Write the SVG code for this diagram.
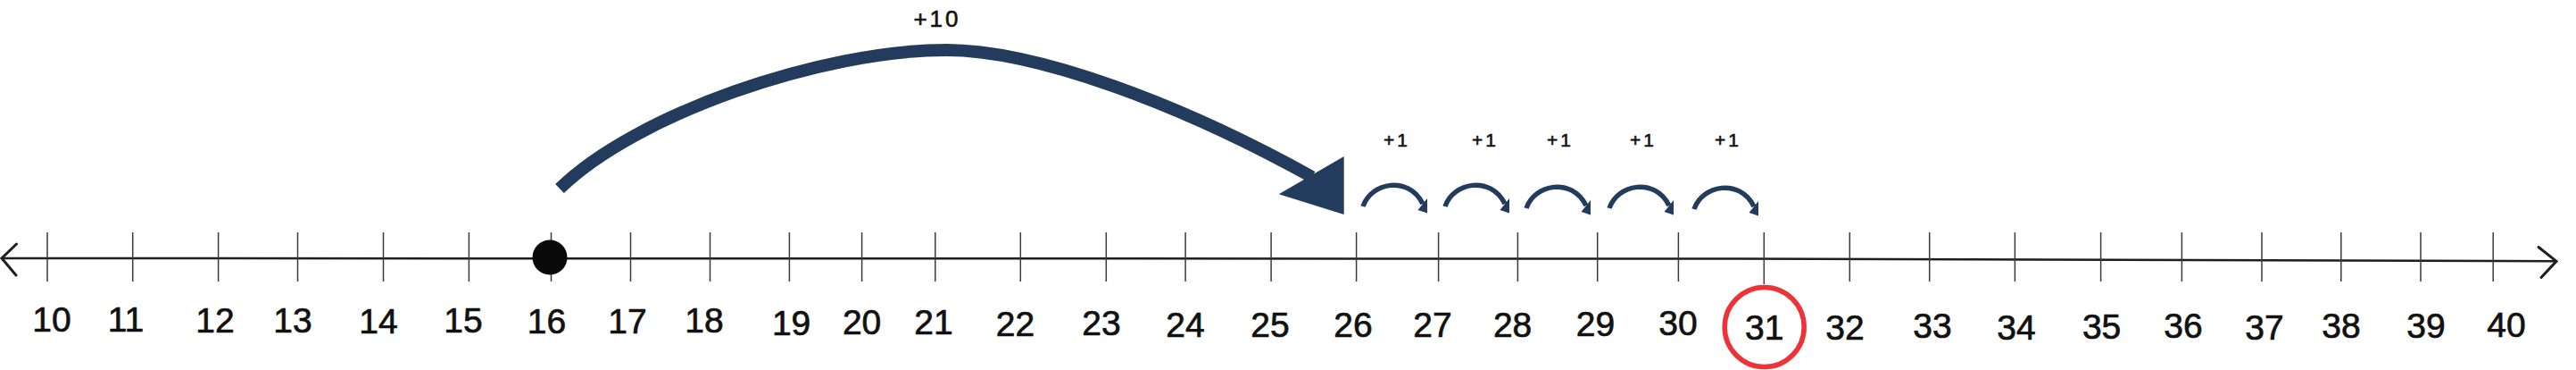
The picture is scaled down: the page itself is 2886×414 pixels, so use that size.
<svg xmlns="http://www.w3.org/2000/svg" width="2886" height="414" viewBox="0 0 2886 414">
<style>
.axis{fill:none;stroke:#1e1e1e;stroke-width:2.5;stroke-linecap:round;stroke-linejoin:round}
.head{fill:none;stroke:#1e1e1e;stroke-width:3;stroke-linecap:round}
.tick{stroke:#3a3a3a;stroke-width:1.5}
.num{font-family:"Liberation Sans",Arial,sans-serif;font-size:39px;fill:#111;stroke:#111;stroke-width:0.7;text-anchor:middle}
.jump{fill:none;stroke:#233c5e;stroke-width:14}
.hop{fill:none;stroke:#233c5e;stroke-width:5.5}
.tip{fill:#233c5e}
.lbl{font-family:"Liberation Sans",Arial,sans-serif;fill:#111;stroke:#111;stroke-width:0.6;text-anchor:middle}
</style>
<rect width="2886" height="414" fill="#ffffff"/>
<g id="axis">
<polyline class="axis" points="2,289 1950,289.5 2864,292.3"/>
<polyline class="head" points="18.5,273 2,289 18,308"/>
<polyline class="head" points="2844,276.5 2864,292.3 2847,310.5"/>
</g>
<g id="n10"><line class="tick" x1="53" y1="260" x2="53" y2="315"/><text class="num" x="58" y="371">10</text></g>
<g id="n11"><line class="tick" x1="148.7" y1="260" x2="148.7" y2="315"/><text class="num" x="141" y="371">11</text></g>
<g id="n12"><line class="tick" x1="244.6" y1="260" x2="244.6" y2="315"/><text class="num" x="241" y="372">12</text></g>
<g id="n13"><line class="tick" x1="333.5" y1="260" x2="333.5" y2="315"/><text class="num" x="328" y="371.5">13</text></g>
<g id="n14"><line class="tick" x1="429.5" y1="260" x2="429.5" y2="315"/><text class="num" x="424" y="372.5">14</text></g>
<g id="n15"><line class="tick" x1="525.4" y1="260" x2="525.4" y2="315"/><text class="num" x="519" y="371.5">15</text></g>
<g id="n16"><line class="tick" x1="617.5" y1="260" x2="617.5" y2="315"/><text class="num" x="612.5" y="373">16</text><circle cx="616" cy="288" r="19.5" fill="#0a0a0a"/></g>
<g id="n17"><line class="tick" x1="706.5" y1="260" x2="706.5" y2="315"/><text class="num" x="703" y="372.5">17</text></g>
<g id="n18"><line class="tick" x1="795.5" y1="260" x2="795.5" y2="315"/><text class="num" x="789" y="371.5">18</text></g>
<g id="n19"><line class="tick" x1="884.4" y1="260" x2="884.4" y2="315"/><text class="num" x="886.6" y="374.5">19</text></g>
<g id="n20"><line class="tick" x1="965.6" y1="260" x2="965.6" y2="315"/><text class="num" x="965.6" y="374">20</text></g>
<g id="n21"><line class="tick" x1="1047.8" y1="260" x2="1047.8" y2="315"/><text class="num" x="1046" y="374">21</text></g>
<g id="n22"><line class="tick" x1="1143.3" y1="260" x2="1143.3" y2="315"/><text class="num" x="1137.5" y="376">22</text></g>
<g id="n23"><line class="tick" x1="1239.3" y1="260" x2="1239.3" y2="315"/><text class="num" x="1234" y="375">23</text></g>
<g id="n24"><line class="tick" x1="1328.1" y1="260" x2="1328.1" y2="315"/><text class="num" x="1328" y="376.5">24</text></g>
<g id="n25"><line class="tick" x1="1424.1" y1="260" x2="1424.1" y2="315"/><text class="num" x="1423" y="376.5">25</text></g>
<g id="n26"><line class="tick" x1="1519.6" y1="260" x2="1519.6" y2="315"/><text class="num" x="1516" y="376.5">26</text></g>
<g id="n27"><line class="tick" x1="1611.6" y1="260" x2="1611.6" y2="315"/><text class="num" x="1605" y="377">27</text></g>
<g id="n28"><line class="tick" x1="1700.4" y1="260" x2="1700.4" y2="315"/><text class="num" x="1694.6" y="376.5">28</text></g>
<g id="n29"><line class="tick" x1="1789.7" y1="260" x2="1789.7" y2="315"/><text class="num" x="1787.5" y="376">29</text></g>
<g id="n30"><line class="tick" x1="1880.4" y1="260" x2="1880.4" y2="315"/><text class="num" x="1880" y="375">30</text></g>
<g id="n31"><line class="tick" x1="1976.3" y1="260" x2="1976.3" y2="318"/><text class="num" x="1976.7" y="380">31</text><circle cx="1976.7" cy="366" r="44.5" fill="none" stroke="#ee3338" stroke-width="5.5"/></g>
<g id="n32"><line class="tick" x1="2072.3" y1="260" x2="2072.3" y2="315"/><text class="num" x="2067" y="380">32</text></g>
<g id="n33"><line class="tick" x1="2161.7" y1="260" x2="2161.7" y2="315"/><text class="num" x="2165" y="377.5">33</text></g>
<g id="n34"><line class="tick" x1="2257.4" y1="260" x2="2257.4" y2="315"/><text class="num" x="2259" y="380">34</text></g>
<g id="n35"><line class="tick" x1="2353.6" y1="260" x2="2353.6" y2="315"/><text class="num" x="2354.6" y="379">35</text></g>
<g id="n36"><line class="tick" x1="2444.4" y1="260" x2="2444.4" y2="315"/><text class="num" x="2446" y="378.3">36</text></g>
<g id="n37"><line class="tick" x1="2534" y1="260" x2="2534" y2="315"/><text class="num" x="2537" y="379.5">37</text></g>
<g id="n38"><line class="tick" x1="2622.8" y1="260" x2="2622.8" y2="315"/><text class="num" x="2623" y="378.3">38</text></g>
<g id="n39"><line class="tick" x1="2712" y1="260" x2="2712" y2="315"/><text class="num" x="2718" y="378.3">39</text></g>
<g id="n40"><line class="tick" x1="2793.2" y1="260" x2="2793.2" y2="315"/><text class="num" x="2808" y="377.3">40</text></g>
<g id="connectors">
<path class="jump" d="M627,211 C712,128 920,56 1060,56 C1160,56 1320,115 1470,198"/>
<polygon class="tip" points="1505.7,175 1505.7,240 1432.7,217.3"/>
<text class="lbl" x="1050" y="30" font-size="26" letter-spacing="3">+10</text>
<g transform="translate(0,0)"><path class="hop" d="M1527,231 C1536,204 1578,196 1594,228"/><polygon class="tip" points="1599,222 1599,238.5 1588.5,235"/></g>
<g transform="translate(92,0)"><path class="hop" d="M1527,231 C1536,204 1578,196 1594,228"/><polygon class="tip" points="1599,222 1599,238.5 1588.5,235"/></g>
<g transform="translate(183,2)"><path class="hop" d="M1527,231 C1536,204 1578,196 1594,228"/><polygon class="tip" points="1599,222 1599,238.5 1588.5,235"/></g>
<g transform="translate(276,2)"><path class="hop" d="M1527,231 C1536,204 1578,196 1594,228"/><polygon class="tip" points="1599,222 1599,238.5 1588.5,235"/></g>
<g transform="translate(371,3)"><path class="hop" d="M1527,231 C1536,204 1578,196 1594,228"/><polygon class="tip" points="1599,222 1599,238.5 1588.5,235"/></g>
<text class="lbl" x="1565" y="164" font-size="21" letter-spacing="3">+1</text>
<text class="lbl" x="1664" y="164" font-size="21" letter-spacing="3">+1</text>
<text class="lbl" x="1748" y="164" font-size="21" letter-spacing="3">+1</text>
<text class="lbl" x="1841" y="164" font-size="21" letter-spacing="3">+1</text>
<text class="lbl" x="1936" y="164" font-size="21" letter-spacing="3">+1</text>
</g>
</svg>
